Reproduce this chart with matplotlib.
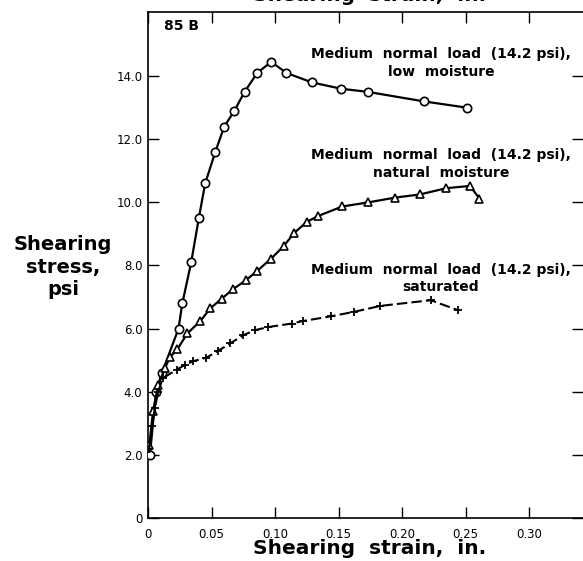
"""
Shearing stress vs shearing strain, sample 85 B, three moisture states.
"""

import matplotlib
matplotlib.use('Agg')
import matplotlib.pyplot as plt
from matplotlib import rcParams

rcParams.update({
    'font.family':       'DejaVu Sans',
    'font.weight':       'bold',
    'axes.linewidth':    1.2,
    'xtick.direction':   'in',
    'ytick.direction':   'in',
    'xtick.major.size':  8,
    'ytick.major.size':  8,
    'xtick.major.width': 1.0,
    'ytick.major.width': 1.0,
})

# ── Data ──────────────────────────────────────────────────────────────────────
low_x = [0.0015, 0.0063, 0.011, 0.024, 0.027, 0.034, 0.040, 0.045, 0.053,
         0.060, 0.068, 0.076, 0.086, 0.097, 0.109, 0.129, 0.152, 0.173,
         0.217, 0.251]
low_y = [2.0, 4.0, 4.6, 6.0, 6.8, 8.1, 9.5, 10.6, 11.6,
         12.4, 12.9, 13.5, 14.1, 14.45, 14.1, 13.8, 13.6, 13.5,
         13.2, 13.0]

nat_x = [0.001, 0.004, 0.008, 0.0134, 0.0173, 0.023, 0.031, 0.041, 0.049,
         0.058, 0.067, 0.077, 0.086, 0.097, 0.107, 0.115, 0.125, 0.134,
         0.153, 0.1735, 0.1945, 0.214, 0.235, 0.2535, 0.261]
nat_y = [2.3, 3.4, 4.2, 4.75, 5.1, 5.34, 5.85, 6.23, 6.64,
         6.95, 7.25, 7.53, 7.83, 8.22, 8.62, 9.03, 9.38, 9.57,
         9.87, 10.0, 10.15, 10.25, 10.45, 10.52, 10.12]

sat_x = [0.001, 0.003, 0.0055, 0.008, 0.0116, 0.0226, 0.029, 0.0357, 0.046,
         0.0554, 0.0646, 0.075, 0.084, 0.0947, 0.113, 0.122, 0.144, 0.162,
         0.183, 0.2226, 0.2443]
sat_y = [2.2, 2.9, 3.5, 4.0, 4.43, 4.7, 4.85, 4.97, 5.08,
         5.3, 5.53, 5.79, 5.95, 6.05, 6.16, 6.24, 6.39, 6.53,
         6.72, 6.9, 6.58]

x_ticks = [0, 0.05, 0.10, 0.15, 0.20, 0.25, 0.30]
x_tick_labels = ['0', '0.05', '0.10', '0.15', '0.20', '0.25', '0.30']
y_ticks = [0, 2, 4, 6, 8, 10, 12, 14]
y_tick_labels = ['0', '2.0', '4.0', '6.0', '8.0', '10.0', '12.0', '14.0']

label_text = 'Medium  normal  load  (14.2 psi),'

# ── Figure ────────────────────────────────────────────────────────────────────
fig = plt.figure(figsize=(5.83, 5.61), dpi=100, facecolor='white')
ax = fig.add_axes([0.2539, 0.0766, 0.7461, 0.902])

ax.plot(low_x, low_y, color='black', linewidth=1.6, marker='o',
        markersize=6, markerfacecolor='white', markeredgecolor='black',
        markeredgewidth=1.2, zorder=3)
ax.plot(nat_x, nat_y, color='black', linewidth=1.6, marker='^',
        markersize=6, markerfacecolor='white', markeredgecolor='black',
        markeredgewidth=1.2, zorder=3)
ax.plot(sat_x, sat_y, color='black', linewidth=1.5, linestyle=(0, (5, 2)),
        marker='+', markersize=6, markeredgewidth=1.3, zorder=3)

ax.set_xlim(0, 0.3425)
ax.set_ylim(0, 16.03)
ax.set_xticks(x_ticks)
ax.set_xticklabels(x_tick_labels, fontweight='normal')
ax.set_yticks(y_ticks)
ax.set_yticklabels(y_tick_labels, fontweight='normal')
ax.tick_params(axis='x', labelsize=8.5, pad=7, top=True)
ax.tick_params(axis='y', labelsize=8.5, pad=4, right=True)
ax.spines['right'].set_visible(False)

# series labels
ax.text(0.2307, 14.42, label_text + '\nlow  moisture', ha='center',
        va='center', fontsize=10, linespacing=1.35)
ax.text(0.2307, 11.22, label_text + '\nnatural  moisture', ha='center',
        va='center', fontsize=10, linespacing=1.35)
ax.text(0.2307, 7.59, label_text + '\nsaturated', ha='center',
        va='center', fontsize=10, linespacing=1.35)
ax.text(0.026, 15.6, '85 B', ha='center', va='center', fontsize=10)

# axis titles (the top one is cut by the page edge, as in the original scan)
fig.text(0.6346, 0.0214, 'Shearing  strain,  in.', ha='center',
         va='center', fontsize=14.5)
fig.text(0.6346, 0.9975, 'Shearing  strain,  in.', ha='center',
         va='baseline', fontsize=14.5)
fig.text(0.108, 0.524, 'Shearing\nstress,\npsi', ha='center',
         va='center', fontsize=14, linespacing=1.25)

fig.savefig('out.png', dpi=100, facecolor='white')
